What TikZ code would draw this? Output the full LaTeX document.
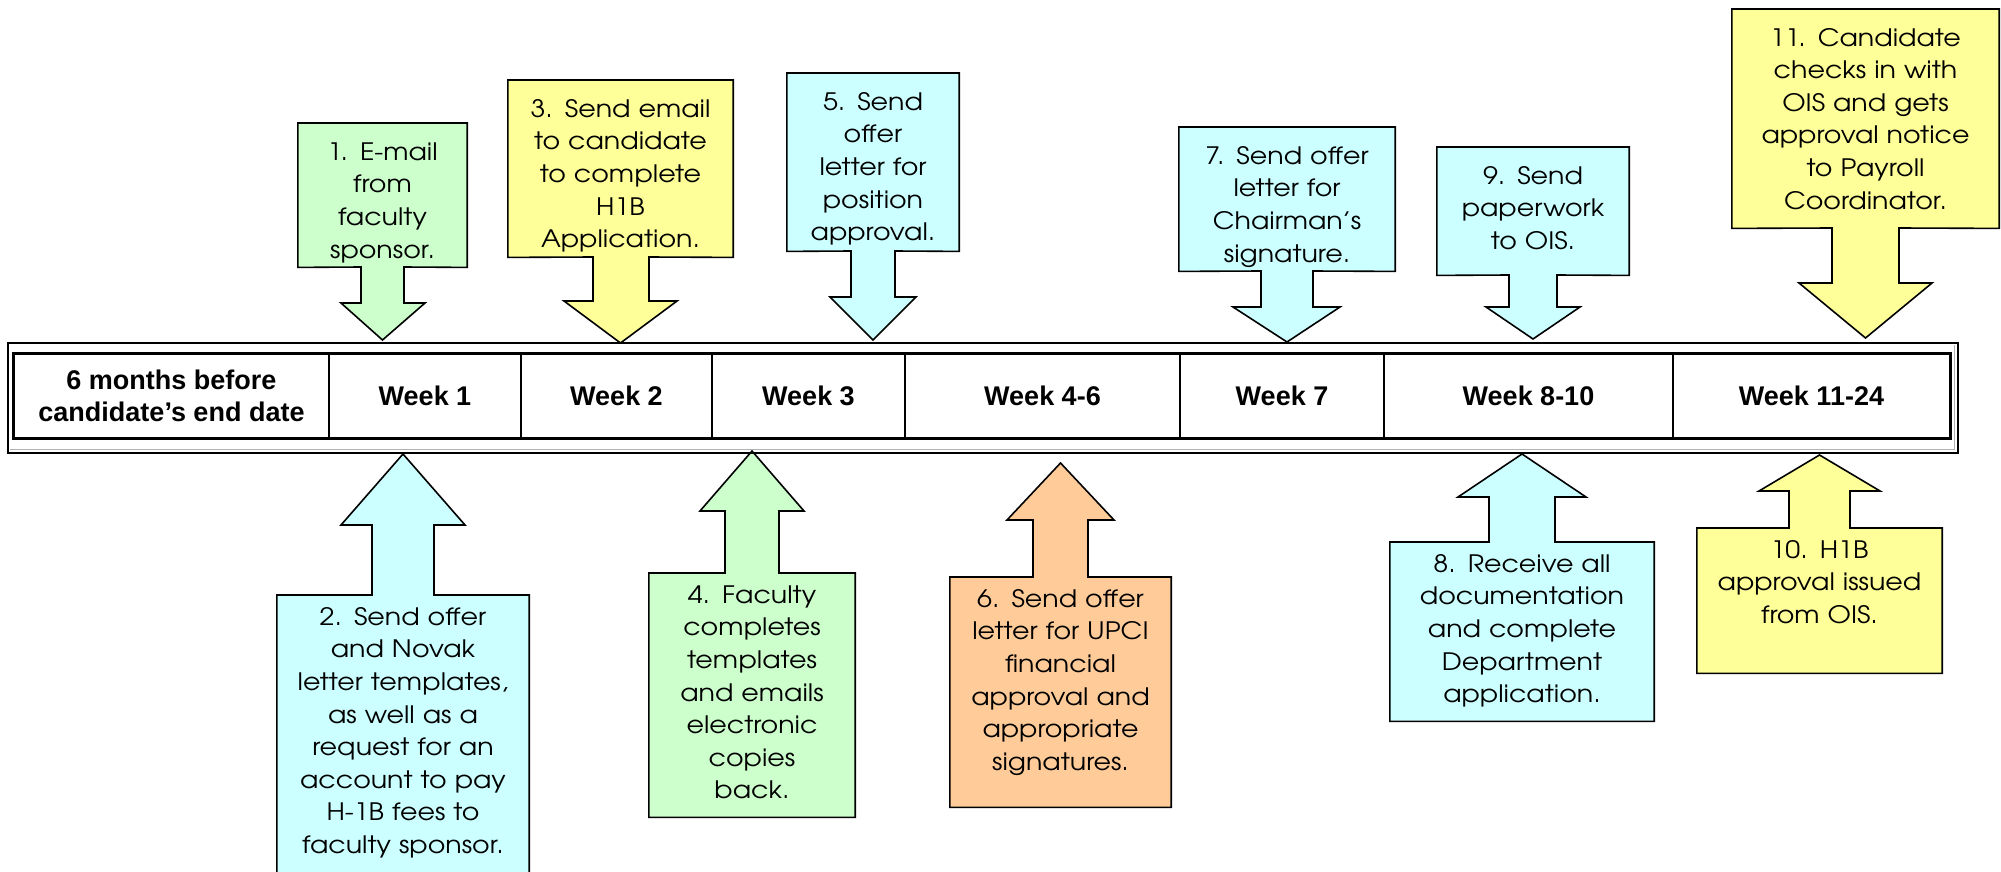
\documentclass[tikz,border=0pt]{standalone}
\usepackage{fontspec}
\setmainfont{Liberation Sans}
\newfontfamily\gothic[FakeStretch=1.12,WordSpace=0.7]{TeX Gyre Adventor}
\definecolor{cgreen}{RGB}{204,255,204}
\definecolor{cyellow}{RGB}{255,255,153}
\definecolor{ccyan}{RGB}{204,255,255}
\definecolor{corange}{RGB}{255,204,153}
\pgfdeclarelayer{bg}
\pgfsetlayers{bg,main}

\begin{document}
\begin{tikzpicture}[x=1pt,y=-1pt]
\tikzstyle{every node}=[inner sep=0pt]
\tikzstyle{week}=[draw,line width=1.5pt,minimum height=84pt,align=center,font=\bfseries\fontsize{27}{32}\selectfont]
\tikzstyle{note}=[anchor=north,align=center,font=\gothic\fontsize{24}{32.6}\selectfont]
\tikzstyle{down}=[note,text height=37pt]
\tikzstyle{up}=[note,text height=30pt]
\tikzstyle{callout}=[draw,line width=1.6pt,line join=miter]
\path[use as bounding box,clip] (0,0) rectangle (2001,872);
\draw (171.5,396) node (w0) [week,minimum width=315pt] {6 months before\\candidate’s end date};
\draw (425,396) node (w1) [week,minimum width=192pt] {Week 1};
\draw (616.5,396) node (w2) [week,minimum width=191pt] {Week 2};
\draw (808.5,396) node (w3) [week,minimum width=193pt] {Week 3};
\draw (1042.5,396) node (w4) [week,minimum width=275pt] {Week 4-6};
\draw (1282,396) node (w5) [week,minimum width=204pt] {Week 7};
\draw (1528.5,396) node (w6) [week,minimum width=289pt] {Week 8-10};
\draw (1811.5,396) node (w7) [week,minimum width=277pt] {Week 11-24};
\draw[line width=3pt] (w0.north west) rectangle (w7.south east);
\draw[gray!60,line width=1pt] (10,449.5) -- (1954.5,449.5) -- (1954.5,345);
\draw[line width=2.5pt] (8,343) rectangle (1958,453);
\draw (382.5,123) node (c1) [down,text width=169pt,text depth=107pt] {1. E-mail\\from\\faculty\\sponsor.};
\draw (620.5,80) node (c3) [down,text width=225pt,text depth=140pt] {3. Send email\\to candidate\\to complete\\H1B\\Application.};
\draw (873,73) node (c5) [down,text width=172pt,text depth=141pt] {5. Send\\offer\\letter for\\position\\approval.};
\draw (1287,127) node (c7) [down,text width=216pt,text depth=107pt] {7. Send offer\\letter for\\Chairman’s\\signature.};
\draw (1533,147) node (c9) [down,text width=192pt,text depth=91pt] {9. Send\\paperwork\\to OIS.};
\draw (1865.5,9) node (c11) [down,text width=267pt,text depth=182pt] {11. Candidate\\checks in with\\OIS and gets\\approval notice\\to Payroll\\Coordinator.};
\draw (403,595) node (c2) [up,text width=252pt,text depth=265pt] {2. Send offer\\and Novak\\letter templates,\\as well as a\\request for an\\account to pay\\H-1B fees to\\faculty sponsor.};
\draw (752,573) node (c4) [up,text width=206pt,text depth=214pt] {4. Faculty\\completes\\templates\\and emails\\electronic\\copies\\back.};
\draw (1060.5,577) node (c6) [up,text width=221pt,text depth=200pt] {6. Send offer\\letter for UPCI\\financial\\approval and\\appropriate\\signatures.};
\draw (1522,542) node (c8) [up,text width=264pt,text depth=149pt] {8. Receive all\\documentation\\and complete\\Department\\application.};
\draw (1819.5,528) node (c10) [up,text width=245pt,text depth=115pt] {10. H1B\\approval issued\\from OIS.};
\coordinate (t1) at (382.5,340);
\coordinate (t3) at (620.5,343);
\coordinate (t5) at (873,340);
\coordinate (t7) at (1287,342);
\coordinate (t9) at (1533,339);
\coordinate (t11) at (1865.5,338);
\coordinate (t2) at (403,454);
\coordinate (t4) at (752,451);
\coordinate (t6) at (1060.5,463);
\coordinate (t8) at (1522,454);
\coordinate (t10) at (1819.5,455);
\begin{pgfonlayer}{bg}
\draw[callout,fill=cgreen] (c1.north west) -- (c1.north east) -- (c1.south east) -- (404,267) -- (404,303) -- (425,303) -- (t1) -- (341,303) -- (361,303) -- (361,267) -- (c1.south west) -- cycle;
\draw[callout,fill=cyellow] (c3.north west) -- (c3.north east) -- (c3.south east) -- (649,257) -- (649,301) -- (677,301) -- (t3) -- (564,301) -- (593,301) -- (593,257) -- (c3.south west) -- cycle;
\draw[callout,fill=ccyan] (c5.north west) -- (c5.north east) -- (c5.south east) -- (895,251) -- (895,297) -- (916,297) -- (t5) -- (830,297) -- (851,297) -- (851,251) -- (c5.south west) -- cycle;
\draw[callout,fill=ccyan] (c7.north west) -- (c7.north east) -- (c7.south east) -- (1313,271) -- (1313,307) -- (1340,307) -- (t7) -- (1233,307) -- (1261,307) -- (1261,271) -- (c7.south west) -- cycle;
\draw[callout,fill=ccyan] (c9.north west) -- (c9.north east) -- (c9.south east) -- (1557,275) -- (1557,307) -- (1580,307) -- (t9) -- (1486,307) -- (1509,307) -- (1509,275) -- (c9.south west) -- cycle;
\draw[callout,fill=cyellow] (c11.north west) -- (c11.north east) -- (c11.south east) -- (1899,228) -- (1899,283) -- (1932,283) -- (t11) -- (1799,283) -- (1832,283) -- (1832,228) -- (c11.south west) -- cycle;
\draw[callout,fill=ccyan] (c2.south west) -- (c2.north west) -- (372,595) -- (372,525) -- (341,525) -- (t2) -- (465,525) -- (434,525) -- (434,595) -- (c2.north east) -- (c2.south east) -- cycle;
\draw[callout,fill=cgreen] (c4.south west) -- (c4.north west) -- (725,573) -- (725,511) -- (700,511) -- (t4) -- (804,511) -- (779,511) -- (779,573) -- (c4.north east) -- (c4.south east) -- cycle;
\draw[callout,fill=corange] (c6.south west) -- (c6.north west) -- (1033,577) -- (1033,520) -- (1007,520) -- (t6) -- (1114,520) -- (1088,520) -- (1088,577) -- (c6.north east) -- (c6.south east) -- cycle;
\draw[callout,fill=ccyan] (c8.south west) -- (c8.north west) -- (1489,542) -- (1489,497) -- (1458,497) -- (t8) -- (1586,497) -- (1555,497) -- (1555,542) -- (c8.north east) -- (c8.south east) -- cycle;
\draw[callout,fill=cyellow] (c10.south west) -- (c10.north west) -- (1789,528) -- (1789,491) -- (1759,491) -- (t10) -- (1880,491) -- (1850,491) -- (1850,528) -- (c10.north east) -- (c10.south east) -- cycle;
\end{pgfonlayer}
\end{tikzpicture}
\end{document}
